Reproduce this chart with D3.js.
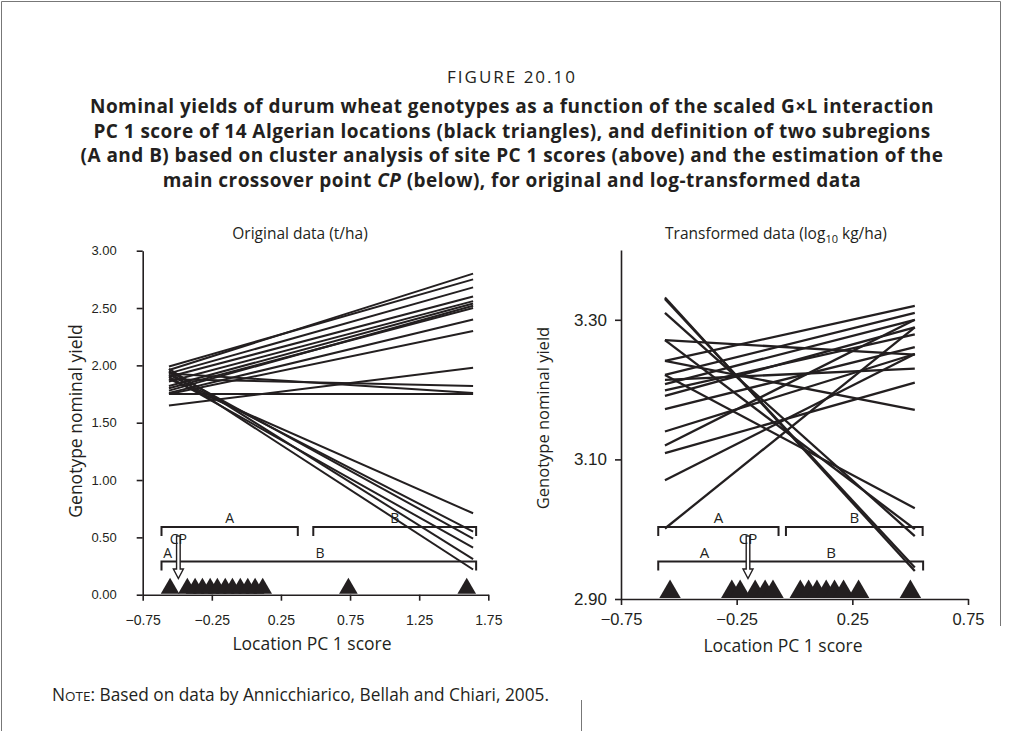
<!DOCTYPE html>
<html>
<head>
<meta charset="utf-8">
<script src="https://cdn.jsdelivr.net/npm/d3@7"></script>
<style>
  body { margin: 0; background: #fff; }
  svg { display: block; font-family: "Open Sans", sans-serif; }
  text { fill: #231f20; }
  .axis path, .axis line { stroke: #231f20; stroke-width: 1.6; }
  .axis text { fill: #231f20; }
  .geno { fill: none; stroke: #231f20; stroke-width: 2; }
  .bracket { fill: none; stroke: #231f20; stroke-width: 2; }
</style>
</head>
<body>
<svg id="chart" width="1018" height="731"></svg>
<script>
// tick values
const leftXTicks = [-0.75, -0.25, 0.25, 0.75, 1.25, 1.75];
const leftYTicks = [0, 0.5, 1, 1.5, 2, 2.5, 3];
const rightXTicks = [-0.75, -0.25, 0.25, 0.75];
const rightYTicks = [2.9, 3.1, 3.3];

// genotype nominal yield at the lowest and highest location score, original data (t/ha)
const leftScoreRange = [-0.56, 1.64];
const leftYieldStart = [1.96, 1.99, 1.93, 1.90, 1.86, 1.82, 1.78, 1.80, 1.76, 1.75,
                        1.65, 1.88, 1.93, 1.75, 1.88, 1.92, 1.95, 1.90, 1.97, 1.94];
const leftYieldEnd   = [2.80, 2.75, 2.68, 2.60, 2.56, 2.54, 2.52, 2.50, 2.40, 2.30,
                        1.98, 1.82, 1.76, 1.75, 0.71, 0.55, 0.49, 0.41, 0.31, 0.22];

// same, log10 kg/ha
const rightScoreRange = [-0.56, 0.52];
const rightYieldStart = [3.332, 3.330, 3.310, 3.271, 3.221, 3.271, 3.241, 3.241, 3.221, 3.214,
                         3.208, 3.199, 3.191, 3.172, 3.140, 3.120, 3.109, 3.070, 3.001];
const rightYieldEnd   = [2.940, 2.945, 2.990, 3.000, 3.030, 3.250, 3.320, 3.171, 3.310, 3.230,
                         3.300, 3.279, 3.289, 3.261, 3.251, 3.300, 3.210, 3.251, 3.289];

// location PC 1 scores (black triangles)
const leftLocations = [-0.552, -0.427, -0.371, -0.318, -0.262, -0.210, -0.153, -0.101,
                       -0.044, 0.010, 0.063, 0.118, 0.738, 1.594];
const rightLocations = [-0.538, -0.271, -0.235, -0.170, -0.127, -0.093, 0.025, 0.061,
                        0.097, 0.137, 0.173, 0.212, 0.277, 0.501];

// subregions: cluster analysis (above) and crossover point (below)
const leftClusterA = [-0.614, 0.372], leftClusterB = [0.484, 1.662];
const leftCP = -0.492, leftCPRange = [-0.614, 1.662];
const rightClusterA = [-0.589, -0.069], rightClusterB = [-0.037, 0.554];
const rightCP = -0.201, rightCPRange = [-0.589, 0.556];

const titleLines = [
  'Nominal yields of durum wheat genotypes as a function of the scaled G\u00d7L interaction',
  'PC 1 score of 14 Algerian locations (black triangles), and definition of two subregions',
  '(A and B) based on cluster analysis of site PC 1 scores (above) and the estimation of the'
];

const svg = d3.select('#chart');

// page frame
svg.append('path')
  .attr('d', 'M1.5,731 V1.5 H1000.5 V626 M581.5,700 V731')
  .attr('fill', 'none').attr('stroke', '#777').attr('stroke-width', 1);

svg.append('text').attr('x', 512).attr('y', 83).attr('text-anchor', 'middle')
  .style('font-size', '17px').style('letter-spacing', '2px').text('FIGURE 20.10');

titleLines.forEach((t, i) => {
  svg.append('text').attr('x', 512).attr('y', 113 + i * 24.5).attr('text-anchor', 'middle')
    .style('font-size', '19px').style('font-weight', 'bold').style('letter-spacing', '0.45px').text(t);
});
const last = svg.append('text').attr('x', 512).attr('y', 113 + 3 * 24.5).attr('text-anchor', 'middle')
  .style('font-size', '19px').style('font-weight', 'bold').style('letter-spacing', '0.45px');
last.append('tspan').text('main crossover point ');
last.append('tspan').style('font-style', 'italic').text('CP');
last.append('tspan').text(' (below), for original and log-transformed data');

const note = svg.append('text').attr('x', 52).attr('y', 701).style('font-size', '17.3px');
note.append('tspan').text('N');
note.append('tspan').style('font-size', '13.5px').text('OTE');
note.append('tspan').text(': Based on data by Annicchiarico, Bellah and Chiari, 2005.');

function panel(opt) {
  const x = d3.scaleLinear().domain(opt.xDomain).range(opt.xRange);
  const y = d3.scaleLinear().domain(opt.yDomain).range(opt.yRange);
  const g = svg.append('g');
  const y0 = opt.yRange[0];

  g.append('text').attr('x', opt.titleX).attr('y', 239).attr('text-anchor', 'middle')
    .style('font-size', '15.5px').call(opt.title);

  // genotype lines
  const line = d3.line().x(d => x(d[0])).y(d => y(d[1]));
  g.selectAll('path.geno')
    .data(opt.start.map((s, i) => [[opt.scores[0], s], [opt.scores[1], opt.end[i]]]))
    .join('path').attr('class', 'geno').style('stroke-width', opt.lineW).attr('d', line);

  // axes
  g.append('g').attr('class', 'axis').attr('transform', `translate(0,${y0})`)
    .call(d3.axisBottom(x).tickValues(opt.xTicks).tickFormat(d3.format('.2f'))
      .tickSize(6).tickSizeOuter(0).tickPadding(opt.xPad))
    .selectAll('text').style('font-size', opt.xTickFont);
  g.append('g').attr('class', 'axis').attr('transform', `translate(${opt.xRange[0]},0)`)
    .call(d3.axisLeft(y).tickValues(opt.yTicks).tickFormat(d3.format('.2f'))
      .tickSize(6).tickSizeOuter(0).tickPadding(opt.yPad))
    .selectAll('text').style('font-size', opt.yTickFont);
  g.selectAll('.axis text').attr('font-family', null);

  g.append('text').attr('x', opt.xLabelX).attr('y', opt.xLabelY).attr('text-anchor', 'middle')
    .style('font-size', '17.5px').text('Location PC 1 score');
  g.append('text').attr('transform', `translate(${opt.yLabelX},${opt.yLabelY}) rotate(-90)`)
    .attr('text-anchor', 'middle').style('font-size', opt.yLabelFont).text('Genotype nominal yield');

  // brackets
  const bracket = (a, b, yy) => `M${x(a)},${yy + 9} V${yy} H${x(b)} V${yy + 9}`;
  g.append('path').attr('class', 'bracket').attr('d', bracket(opt.clA[0], opt.clA[1], 527));
  g.append('path').attr('class', 'bracket').attr('d', bracket(opt.clB[0], opt.clB[1], 527));
  g.append('path').attr('class', 'bracket').attr('d', bracket(opt.cpRange[0], opt.cpRange[1], 561.5));
  const lab = (t, v, yy) => g.append('text').attr('x', x(v)).attr('y', yy)
    .attr('text-anchor', 'middle').style('font-size', opt.labFont).text(t);
  lab('A', d3.mean(opt.clA), 523);
  lab('B', d3.mean(opt.clB), 523);
  lab('A', opt.lowA, 558);
  lab('B', opt.lowB, 558);

  // crossover arrow
  const cx = x(opt.cp);
  g.append('path')
    .attr('d', `M${cx - 1.8},536 V569 H${cx - 5} L${cx},578.5 L${cx + 5},569 H${cx + 1.8} V536 Z`)
    .attr('fill', '#fff').attr('stroke', '#231f20').attr('stroke-width', 1.4);
  lab('CP', opt.cp, 544);

  // locations
  const tri = d3.symbol().type(d3.symbolTriangle).size(opt.triSize);
  g.selectAll('path.loc').data(opt.locs).join('path').attr('class', 'loc')
    .attr('transform', d => `translate(${x(d)},${y0 - opt.triH})`)
    .attr('d', tri()).attr('fill', '#231f20');
}

panel({
  xDomain: [-0.75, 1.75], xRange: [142.7, 488.3],
  yDomain: [0, 3], yRange: [594.7, 250.7],
  xTicks: leftXTicks, yTicks: leftYTicks,
  scores: leftScoreRange, start: leftYieldStart, end: leftYieldEnd,
  locs: leftLocations, clA: leftClusterA, clB: leftClusterB,
  cp: leftCP, cpRange: leftCPRange, lowA: -0.57, lowB: 0.533,
  xTickFont: '14px', yTickFont: '13px', xPad: 14, yPad: 20, triSize: 150, triH: 6.2,
  labFont: '14px', lineW: 2,
  titleX: 300, xLabelX: 312, xLabelY: 650, yLabelX: 82, yLabelY: 421, yLabelFont: '17.5px',
  title: t => t.text('Original data (t/ha)')
});

panel({
  xDomain: [-0.75, 0.75], xRange: [621, 968],
  yDomain: [2.9, 3.4], yRange: [599, 250],
  xTicks: rightXTicks, yTicks: rightYTicks,
  scores: rightScoreRange, start: rightYieldStart, end: rightYieldEnd,
  locs: rightLocations, clA: rightClusterA, clB: rightClusterB,
  cp: rightCP, cpRange: rightCPRange, lowA: -0.389, lowB: 0.158,
  xTickFont: '16.5px', yTickFont: '17px', xPad: 8, yPad: 8, triSize: 200, triH: 7.2,
  labFont: '15px', lineW: 2.3,
  titleX: 776, xLabelX: 783, xLabelY: 652, yLabelX: 549, yLabelY: 418, yLabelFont: '16.5px',
  title: t => {
    t.append('tspan').text('Transformed data (log');
    t.append('tspan').attr('dy', 4).style('font-size', '11px').text('10');
    t.append('tspan').attr('dy', -4).text(' kg/ha)');
  }
});
</script>
</body>
</html>
